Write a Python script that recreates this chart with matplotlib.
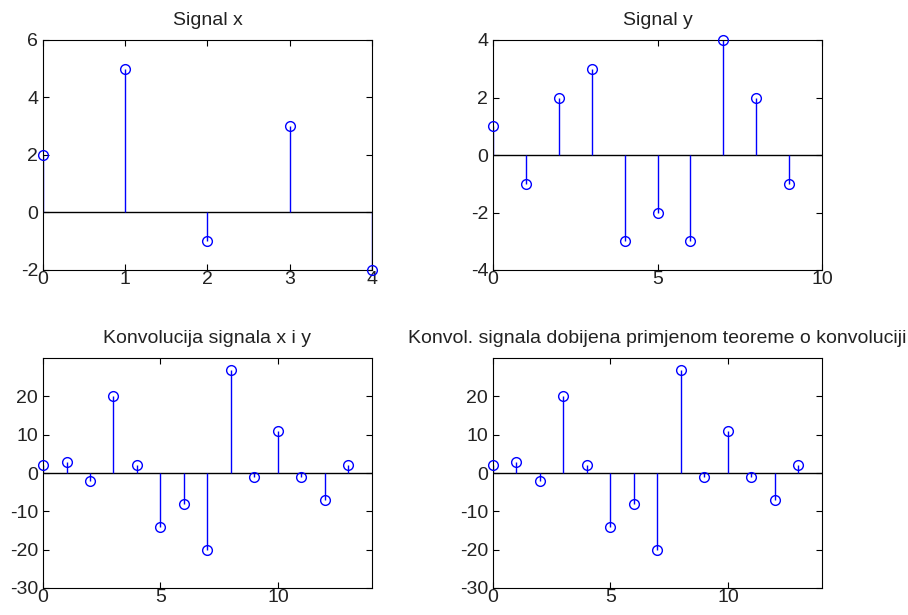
import matplotlib.pyplot as plt
import numpy as np

# signal values
x_vals = [2, 5, -1, 3, -2]
y_vals = [1, -1, 2, 3, -3, -2, -3, 4, 2, -1]
conv_vals = [2, 3, -2, 20, 2, -14, -8, -20, 27, -1, 11, -1, -7, 2]
conv_fft_vals = [2, 3, -2, 20, 2, -14, -8, -20, 27, -1, 11, -1, -7, 2]

titles = ['Signal x', 'Signal y', 'Konvolucija signala x i y',
          'Konvol. signala dobijena primjenom teoreme o konvoluciji']

plt.rcParams['font.family'] = ['Liberation Sans', 'DejaVu Sans']
plt.rcParams['font.size'] = 14
plt.rcParams['axes.unicode_minus'] = False

W, H = 908, 615
fig = plt.figure(figsize=(W / 100, H / 100), dpi=100)


def make_axes(left, top, right, bottom):
    return fig.add_axes([left / W, 1 - bottom / H,
                         (right - left) / W, (bottom - top) / H])


def stem_plot(ax, data, title, xlim, ylim, yticks, xticks):
    n = np.arange(len(data))
    ax.axhline(0, color='k', lw=1, zorder=1)
    ax.vlines(n, 0, data, color='#0000ff', lw=1, zorder=2)
    ax.plot(n, data, 'o', mfc='none', mec='#0000ff', ms=7, mew=1,
            clip_on=False, zorder=3)
    ax.set_xlim(xlim)
    ax.set_ylim(ylim)
    ax.set_xticks(xticks)
    ax.set_yticks(yticks)
    ax.tick_params(direction='in', length=4, width=0.8,
                   top=True, right=True, labelsize=14, colors='k',
                   labelcolor='#222222')
    ax.tick_params(axis='x', pad=1)
    ax.tick_params(axis='y', pad=3.5)
    for s in ax.spines.values():
        s.set_linewidth(0.8)
    ax.set_title(title, fontsize=14, pad=10.5, color='#222222')


ax1 = make_axes(43, 40, 372, 270)
stem_plot(ax1, x_vals, titles[0], (0, 4), (-2, 6), [-2, 0, 2, 4, 6],
          [0, 1, 2, 3, 4])

ax2 = make_axes(493, 40, 822, 270)
stem_plot(ax2, y_vals, titles[1], (0, 10), (-4, 4), [-4, -2, 0, 2, 4],
          [0, 5, 10])

ax3 = make_axes(43, 358, 372, 588)
stem_plot(ax3, conv_vals, titles[2], (0, 14), (-30, 30),
          [-30, -20, -10, 0, 10, 20], [0, 5, 10])

ax4 = make_axes(493, 358, 822, 588)
stem_plot(ax4, conv_fft_vals, titles[3], (0, 14), (-30, 30),
          [-30, -20, -10, 0, 10, 20], [0, 5, 10])

fig.savefig('out.png', dpi=100)
